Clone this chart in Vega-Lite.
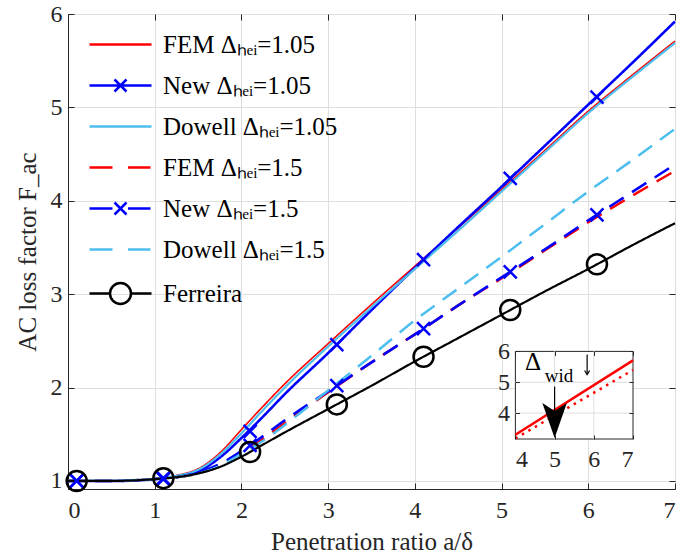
{
  "$schema": "https://vega.github.io/schema/vega-lite/v6.json",
  "width": 607,
  "height": 475,
  "autosize": {"type": "none"},
  "padding": {"left": 68, "top": 14, "right": 19, "bottom": 68},
  "background": "white",
  "config": {
    "font": "Liberation Serif",
    "view": {"stroke": "#262626", "strokeWidth": 1},
    "axis": {
      "labelFont": "Liberation Serif", "labelFontSize": 24, "labelColor": "#262626", "format": "d", "labelOverlap": false,
      "titleFont": "Liberation Serif", "titleFontSize": 25, "titleFontWeight": "normal", "titleColor": "#262626",
      "domainColor": "#262626", "tickColor": "#262626", "gridColor": "#dedede", "gridWidth": 1, "gridOpacity": 1
    }
  },
  "datasets": {
    "lines": [
      {"series": "FEM Δₕₑᵢ=1.05", "x": 0, "y": 1.0}, {"series": "FEM Δₕₑᵢ=1.05", "x": 0.5, "y": 1.0}, {"series": "FEM Δₕₑᵢ=1.05", "x": 1, "y": 1.025}, {"series": "FEM Δₕₑᵢ=1.05", "x": 1.25, "y": 1.06}, {"series": "FEM Δₕₑᵢ=1.05", "x": 1.5, "y": 1.13}, {"series": "FEM Δₕₑᵢ=1.05", "x": 1.75, "y": 1.3}, {"series": "FEM Δₕₑᵢ=1.05", "x": 2, "y": 1.55}, {"series": "FEM Δₕₑᵢ=1.05", "x": 2.25, "y": 1.8}, {"series": "FEM Δₕₑᵢ=1.05", "x": 2.5, "y": 2.04}, {"series": "FEM Δₕₑᵢ=1.05", "x": 3, "y": 2.47}, {"series": "FEM Δₕₑᵢ=1.05", "x": 3.5, "y": 2.89}, {"series": "FEM Δₕₑᵢ=1.05", "x": 4, "y": 3.3}, {"series": "FEM Δₕₑᵢ=1.05", "x": 4.5, "y": 3.71}, {"series": "FEM Δₕₑᵢ=1.05", "x": 5, "y": 4.12}, {"series": "FEM Δₕₑᵢ=1.05", "x": 5.5, "y": 4.54}, {"series": "FEM Δₕₑᵢ=1.05", "x": 6, "y": 4.96}, {"series": "FEM Δₕₑᵢ=1.05", "x": 6.5, "y": 5.34}, {"series": "FEM Δₕₑᵢ=1.05", "x": 7, "y": 5.71},
      {"series": "New Δₕₑᵢ=1.05", "x": 0, "y": 1.0}, {"series": "New Δₕₑᵢ=1.05", "x": 0.5, "y": 1.0}, {"series": "New Δₕₑᵢ=1.05", "x": 1, "y": 1.02}, {"series": "New Δₕₑᵢ=1.05", "x": 1.25, "y": 1.05}, {"series": "New Δₕₑᵢ=1.05", "x": 1.5, "y": 1.1}, {"series": "New Δₕₑᵢ=1.05", "x": 1.75, "y": 1.25}, {"series": "New Δₕₑᵢ=1.05", "x": 2, "y": 1.46}, {"series": "New Δₕₑᵢ=1.05", "x": 2.25, "y": 1.69}, {"series": "New Δₕₑᵢ=1.05", "x": 2.5, "y": 1.93}, {"series": "New Δₕₑᵢ=1.05", "x": 3, "y": 2.37}, {"series": "New Δₕₑᵢ=1.05", "x": 3.5, "y": 2.83}, {"series": "New Δₕₑᵢ=1.05", "x": 4, "y": 3.28}, {"series": "New Δₕₑᵢ=1.05", "x": 4.5, "y": 3.72}, {"series": "New Δₕₑᵢ=1.05", "x": 5, "y": 4.15}, {"series": "New Δₕₑᵢ=1.05", "x": 5.5, "y": 4.59}, {"series": "New Δₕₑᵢ=1.05", "x": 6, "y": 5.03}, {"series": "New Δₕₑᵢ=1.05", "x": 6.5, "y": 5.47}, {"series": "New Δₕₑᵢ=1.05", "x": 7, "y": 5.92},
      {"series": "Dowell Δₕₑᵢ=1.05", "x": 0, "y": 1.0}, {"series": "Dowell Δₕₑᵢ=1.05", "x": 0.5, "y": 1.0}, {"series": "Dowell Δₕₑᵢ=1.05", "x": 1, "y": 1.025}, {"series": "Dowell Δₕₑᵢ=1.05", "x": 1.25, "y": 1.055}, {"series": "Dowell Δₕₑᵢ=1.05", "x": 1.5, "y": 1.12}, {"series": "Dowell Δₕₑᵢ=1.05", "x": 1.75, "y": 1.28}, {"series": "Dowell Δₕₑᵢ=1.05", "x": 2, "y": 1.51}, {"series": "Dowell Δₕₑᵢ=1.05", "x": 2.25, "y": 1.76}, {"series": "Dowell Δₕₑᵢ=1.05", "x": 2.5, "y": 2.0}, {"series": "Dowell Δₕₑᵢ=1.05", "x": 3, "y": 2.44}, {"series": "Dowell Δₕₑᵢ=1.05", "x": 3.5, "y": 2.86}, {"series": "Dowell Δₕₑᵢ=1.05", "x": 4, "y": 3.27}, {"series": "Dowell Δₕₑᵢ=1.05", "x": 4.5, "y": 3.68}, {"series": "Dowell Δₕₑᵢ=1.05", "x": 5, "y": 4.1}, {"series": "Dowell Δₕₑᵢ=1.05", "x": 5.5, "y": 4.52}, {"series": "Dowell Δₕₑᵢ=1.05", "x": 6, "y": 4.94}, {"series": "Dowell Δₕₑᵢ=1.05", "x": 6.5, "y": 5.32}, {"series": "Dowell Δₕₑᵢ=1.05", "x": 7, "y": 5.69},
      {"series": "FEM Δₕₑᵢ=1.5", "x": 0, "y": 1.0}, {"series": "FEM Δₕₑᵢ=1.5", "x": 0.5, "y": 1.0}, {"series": "FEM Δₕₑᵢ=1.5", "x": 1, "y": 1.02}, {"series": "FEM Δₕₑᵢ=1.5", "x": 1.25, "y": 1.04}, {"series": "FEM Δₕₑᵢ=1.5", "x": 1.5, "y": 1.08}, {"series": "FEM Δₕₑᵢ=1.5", "x": 1.75, "y": 1.16}, {"series": "FEM Δₕₑᵢ=1.5", "x": 2, "y": 1.3}, {"series": "FEM Δₕₑᵢ=1.5", "x": 2.25, "y": 1.45}, {"series": "FEM Δₕₑᵢ=1.5", "x": 2.5, "y": 1.62}, {"series": "FEM Δₕₑᵢ=1.5", "x": 3, "y": 1.95}, {"series": "FEM Δₕₑᵢ=1.5", "x": 3.5, "y": 2.27}, {"series": "FEM Δₕₑᵢ=1.5", "x": 4, "y": 2.57}, {"series": "FEM Δₕₑᵢ=1.5", "x": 4.5, "y": 2.88}, {"series": "FEM Δₕₑᵢ=1.5", "x": 5, "y": 3.17}, {"series": "FEM Δₕₑᵢ=1.5", "x": 5.5, "y": 3.47}, {"series": "FEM Δₕₑᵢ=1.5", "x": 6, "y": 3.77}, {"series": "FEM Δₕₑᵢ=1.5", "x": 6.5, "y": 4.05}, {"series": "FEM Δₕₑᵢ=1.5", "x": 7, "y": 4.32},
      {"series": "New Δₕₑᵢ=1.5", "x": 0, "y": 1.0}, {"series": "New Δₕₑᵢ=1.5", "x": 0.5, "y": 1.0}, {"series": "New Δₕₑᵢ=1.5", "x": 1, "y": 1.02}, {"series": "New Δₕₑᵢ=1.5", "x": 1.25, "y": 1.04}, {"series": "New Δₕₑᵢ=1.5", "x": 1.5, "y": 1.09}, {"series": "New Δₕₑᵢ=1.5", "x": 1.75, "y": 1.18}, {"series": "New Δₕₑᵢ=1.5", "x": 2, "y": 1.32}, {"series": "New Δₕₑᵢ=1.5", "x": 2.25, "y": 1.48}, {"series": "New Δₕₑᵢ=1.5", "x": 2.5, "y": 1.65}, {"series": "New Δₕₑᵢ=1.5", "x": 3, "y": 1.96}, {"series": "New Δₕₑᵢ=1.5", "x": 3.5, "y": 2.27}, {"series": "New Δₕₑᵢ=1.5", "x": 4, "y": 2.57}, {"series": "New Δₕₑᵢ=1.5", "x": 4.5, "y": 2.88}, {"series": "New Δₕₑᵢ=1.5", "x": 5, "y": 3.18}, {"series": "New Δₕₑᵢ=1.5", "x": 5.5, "y": 3.48}, {"series": "New Δₕₑᵢ=1.5", "x": 6, "y": 3.79}, {"series": "New Δₕₑᵢ=1.5", "x": 6.5, "y": 4.09}, {"series": "New Δₕₑᵢ=1.5", "x": 7, "y": 4.39},
      {"series": "Dowell Δₕₑᵢ=1.5", "x": 0, "y": 1.0}, {"series": "Dowell Δₕₑᵢ=1.5", "x": 0.5, "y": 1.0}, {"series": "Dowell Δₕₑᵢ=1.5", "x": 1, "y": 1.02}, {"series": "Dowell Δₕₑᵢ=1.5", "x": 1.25, "y": 1.04}, {"series": "Dowell Δₕₑᵢ=1.5", "x": 1.5, "y": 1.08}, {"series": "Dowell Δₕₑᵢ=1.5", "x": 1.75, "y": 1.16}, {"series": "Dowell Δₕₑᵢ=1.5", "x": 2, "y": 1.29}, {"series": "Dowell Δₕₑᵢ=1.5", "x": 2.25, "y": 1.43}, {"series": "Dowell Δₕₑᵢ=1.5", "x": 2.5, "y": 1.6}, {"series": "Dowell Δₕₑᵢ=1.5", "x": 3, "y": 1.97}, {"series": "Dowell Δₕₑᵢ=1.5", "x": 3.5, "y": 2.34}, {"series": "Dowell Δₕₑᵢ=1.5", "x": 4, "y": 2.72}, {"series": "Dowell Δₕₑᵢ=1.5", "x": 4.5, "y": 3.06}, {"series": "Dowell Δₕₑᵢ=1.5", "x": 5, "y": 3.4}, {"series": "Dowell Δₕₑᵢ=1.5", "x": 5.5, "y": 3.75}, {"series": "Dowell Δₕₑᵢ=1.5", "x": 6, "y": 4.1}, {"series": "Dowell Δₕₑᵢ=1.5", "x": 6.5, "y": 4.43}, {"series": "Dowell Δₕₑᵢ=1.5", "x": 7, "y": 4.77},
      {"series": "Ferreira", "x": 0, "y": 1.0}, {"series": "Ferreira", "x": 0.5, "y": 1.0}, {"series": "Ferreira", "x": 1, "y": 1.02}, {"series": "Ferreira", "x": 1.25, "y": 1.04}, {"series": "Ferreira", "x": 1.5, "y": 1.08}, {"series": "Ferreira", "x": 1.75, "y": 1.15}, {"series": "Ferreira", "x": 2, "y": 1.26}, {"series": "Ferreira", "x": 2.25, "y": 1.39}, {"series": "Ferreira", "x": 2.5, "y": 1.52}, {"series": "Ferreira", "x": 3, "y": 1.77}, {"series": "Ferreira", "x": 3.5, "y": 2.02}, {"series": "Ferreira", "x": 4, "y": 2.28}, {"series": "Ferreira", "x": 4.5, "y": 2.53}, {"series": "Ferreira", "x": 5, "y": 2.78}, {"series": "Ferreira", "x": 5.5, "y": 3.03}, {"series": "Ferreira", "x": 6, "y": 3.27}, {"series": "Ferreira", "x": 6.5, "y": 3.52}, {"series": "Ferreira", "x": 7, "y": 3.76}
    ],
    "markers": [
      {"series": "New Δₕₑᵢ=1.05", "x": 0.1, "y": 1.0}, {"series": "New Δₕₑᵢ=1.05", "x": 1.1, "y": 1.03}, {"series": "New Δₕₑᵢ=1.05", "x": 2.1, "y": 1.53}, {"series": "New Δₕₑᵢ=1.05", "x": 3.1, "y": 2.46}, {"series": "New Δₕₑᵢ=1.05", "x": 4.1, "y": 3.37}, {"series": "New Δₕₑᵢ=1.05", "x": 5.1, "y": 4.24}, {"series": "New Δₕₑᵢ=1.05", "x": 6.1, "y": 5.11},
      {"series": "New Δₕₑᵢ=1.5", "x": 0.1, "y": 1.0}, {"series": "New Δₕₑᵢ=1.5", "x": 1.1, "y": 1.02}, {"series": "New Δₕₑᵢ=1.5", "x": 2.1, "y": 1.38}, {"series": "New Δₕₑᵢ=1.5", "x": 3.1, "y": 2.02}, {"series": "New Δₕₑᵢ=1.5", "x": 4.1, "y": 2.63}, {"series": "New Δₕₑᵢ=1.5", "x": 5.1, "y": 3.24}, {"series": "New Δₕₑᵢ=1.5", "x": 6.1, "y": 3.85},
      {"series": "Ferreira", "x": 0.1, "y": 1.0}, {"series": "Ferreira", "x": 1.1, "y": 1.03}, {"series": "Ferreira", "x": 2.1, "y": 1.31}, {"series": "Ferreira", "x": 3.1, "y": 1.82}, {"series": "Ferreira", "x": 4.1, "y": 2.33}, {"series": "Ferreira", "x": 5.1, "y": 2.83}, {"series": "Ferreira", "x": 6.1, "y": 3.32}
    ],
    "inset": [
      {"series": "solid", "x": 4, "y": 3.3}, {"series": "solid", "x": 7, "y": 5.71},
      {"series": "dotted", "x": 4, "y": 3.18}, {"series": "dotted", "x": 7, "y": 5.4}
    ]
  },
  "layer": [
    {
      "layer": [
        {
          "data": {"name": "lines"},
          "mark": {"type": "line", "interpolate": "monotone"},
          "encoding": {
            "x": {"field": "x", "type": "quantitative", "scale": {"domain": [0, 7], "nice": false, "zero": false},
              "axis": {"orient": "bottom", "values": [0, 1, 2, 3, 4, 5, 6, 7], "title": "Penetration ratio a/δ", "grid": true, "tickSize": -6, "labelPadding": 15, "titlePadding": 7}},
            "y": {"field": "y", "type": "quantitative", "scale": {"domain": [0.914, 6], "nice": false, "zero": false},
              "axis": {"orient": "left", "values": [1, 2, 3, 4, 5, 6], "title": "AC loss factor F_ac", "grid": true, "tickSize": -6, "labelPadding": 12, "titlePadding": 10}},
            "stroke": {"field": "series", "type": "nominal", "legend": null,
              "scale": {"domain": ["Dowell Δₕₑᵢ=1.05", "Dowell Δₕₑᵢ=1.5", "FEM Δₕₑᵢ=1.05", "FEM Δₕₑᵢ=1.5", "Ferreira", "New Δₕₑᵢ=1.05", "New Δₕₑᵢ=1.5"],
                "range": ["#4dbeee", "#4dbeee", "#ff0000", "#ff0000", "#000000", "#0000ff", "#0000ff"]}},
            "strokeDash": {"field": "series", "type": "nominal", "legend": null,
              "scale": {"domain": ["Dowell Δₕₑᵢ=1.05", "Dowell Δₕₑᵢ=1.5", "FEM Δₕₑᵢ=1.05", "FEM Δₕₑᵢ=1.5", "Ferreira", "New Δₕₑᵢ=1.05", "New Δₕₑᵢ=1.5"],
                "range": [[1, 0], [17, 10], [1, 0], [17, 10], [1, 0], [1, 0], [17, 10]]}},
            "strokeWidth": {"field": "series", "type": "nominal", "legend": null,
              "scale": {"type": "ordinal", "domain": ["Dowell Δₕₑᵢ=1.05", "Dowell Δₕₑᵢ=1.5", "FEM Δₕₑᵢ=1.05", "FEM Δₕₑᵢ=1.5", "Ferreira", "New Δₕₑᵢ=1.05", "New Δₕₑᵢ=1.5"],
                "range": [2.2, 2.5, 1.6, 2.5, 2.2, 2.6, 2.6]}}
          }
        },
        {
          "data": {"name": "markers"},
          "transform": [{"filter": "datum.series != 'Ferreira'"}],
          "mark": {"type": "point", "shape": "M-1,-1L1,1M-1,1L1,-1", "size": 169, "strokeWidth": 2.5, "color": "#0000ff", "filled": false, "opacity": 1},
          "encoding": {"x": {"field": "x", "type": "quantitative"}, "y": {"field": "y", "type": "quantitative"}}
        },
        {
          "data": {"name": "markers"},
          "transform": [{"filter": "datum.series == 'Ferreira'"}],
          "mark": {"type": "point", "shape": "circle", "size": 400, "strokeWidth": 2.5, "color": "#000000", "filled": false, "opacity": 1},
          "encoding": {"x": {"field": "x", "type": "quantitative"}, "y": {"field": "y", "type": "quantitative"}}
        },
        {
          "data": {"name": "lines"},
          "transform": [{"filter": "datum.x == 0"}],
          "mark": {"type": "point", "opacity": 0, "filled": false},
          "encoding": {
            "x": {"field": "x", "type": "quantitative"},
            "y": {"field": "y", "type": "quantitative"},
            "color": {"field": "series", "type": "nominal",
              "scale": {"domain": ["FEM Δₕₑᵢ=1.05", "New Δₕₑᵢ=1.05", "Dowell Δₕₑᵢ=1.05", "FEM Δₕₑᵢ=1.5", "New Δₕₑᵢ=1.5", "Dowell Δₕₑᵢ=1.5", "Ferreira"],
                "range": ["#ff0000", "#0000ff", "#4dbeee", "#ff0000", "#0000ff", "#4dbeee", "#000000"]},
              "legend": {"orient": "none", "legendX": 40, "legendY": 18, "title": null, "padding": 0, "symbolSize": 400, "symbolStrokeWidth": 2.5, "symbolOpacity": 1, "labelFont": "Liberation Serif", "labelFontSize": 25, "labelColor": "#000000", "labelOffset": 30, "rowPadding": 15, "labelLimit": 400}},
            "shape": {"field": "series", "type": "nominal",
              "scale": {"domain": ["FEM Δₕₑᵢ=1.05", "New Δₕₑᵢ=1.05", "Dowell Δₕₑᵢ=1.05", "FEM Δₕₑᵢ=1.5", "New Δₕₑᵢ=1.5", "Dowell Δₕₑᵢ=1.5", "Ferreira"],
                "range": [
                  "M-3.1,0L3.1,0",
                  "M-3.1,0L3.1,0M-0.6,-0.6L0.6,0.6M-0.6,0.6L0.6,-0.6",
                  "M-3.1,0L3.1,0",
                  "M-3.1,0L-0.8,0M0.75,0L3.0,0",
                  "M-3.1,0L-0.8,0M0.75,0L3.0,0M-0.6,-0.6L0.6,0.6M-0.6,0.6L0.6,-0.6",
                  "M-3.1,0L-0.8,0M0.75,0L3.0,0",
                  "M-3.1,0L-1.05,0M1.05,0L3.1,0M-1.05,0A1.05,1.05,0,1,0,1.05,0A1.05,1.05,0,1,0,-1.05,0"
                ]},
              "legend": {"orient": "none", "legendX": 40, "legendY": 18, "title": null, "padding": 0, "symbolSize": 400, "symbolStrokeWidth": 2.5, "symbolOpacity": 1, "labelFont": "Liberation Serif", "labelFontSize": 25, "labelColor": "#000000", "labelOffset": 30, "rowPadding": 15, "labelLimit": 400}}
          }
        }
      ]
    },
    {
      "layer": [
        {
          "data": {"values": [{}]},
          "mark": {"type": "rect", "fill": "white", "stroke": "#262626", "strokeWidth": 1},
          "encoding": {
            "x": {"datum": 4, "type": "quantitative", "scale": {"domain": [4, 7], "range": [447.4, 565], "nice": false, "zero": false},
              "axis": {"orient": "bottom", "offset": -50, "values": [4, 5, 6, 7], "grid": false, "domain": false, "tickSize": -4, "labelPadding": 12, "title": null, "zindex": 1}},
            "x2": {"datum": 7},
            "y": {"datum": 3.16, "type": "quantitative", "scale": {"domain": [3.16, 6], "range": [425, 337.4], "nice": false, "zero": false},
              "axis": {"orient": "left", "offset": -447.4, "values": [4, 5, 6], "grid": false, "domain": false, "tickSize": -4, "labelPadding": 10, "title": null, "zindex": 1}},
            "y2": {"datum": 6}
          }
        },
        {
          "data": {"values": [{"v": 5}, {"v": 6}]},
          "mark": {"type": "rule", "color": "#dedede", "strokeWidth": 1},
          "encoding": {"x": {"field": "v", "type": "quantitative"}, "y": {"datum": 3.16, "type": "quantitative"}, "y2": {"datum": 6}}
        },
        {
          "data": {"values": [{"v": 4}, {"v": 5}]},
          "mark": {"type": "rule", "color": "#dedede", "strokeWidth": 1},
          "encoding": {"y": {"field": "v", "type": "quantitative"}, "x": {"datum": 4, "type": "quantitative"}, "x2": {"datum": 7}}
        },
        {
          "data": {"name": "inset"},
          "transform": [{"filter": "datum.series == 'solid'"}],
          "mark": {"type": "line", "color": "#ff0000", "strokeWidth": 2.5},
          "encoding": {"x": {"field": "x", "type": "quantitative"}, "y": {"field": "y", "type": "quantitative"}}
        },
        {
          "data": {"name": "inset"},
          "transform": [{"filter": "datum.series == 'dotted'"}],
          "mark": {"type": "line", "color": "#ff0000", "strokeWidth": 2.5, "strokeDash": [2.5, 5]},
          "encoding": {"x": {"field": "x", "type": "quantitative"}, "y": {"field": "y", "type": "quantitative"}}
        },
        {
          "data": {"values": [{"t": "Δ", "x": 4.45, "y": 5.41}]},
          "mark": {"type": "text", "font": "Liberation Serif", "fontSize": 25, "align": "center", "baseline": "alphabetic", "color": "#000000"},
          "encoding": {"x": {"field": "x", "type": "quantitative"}, "y": {"field": "y", "type": "quantitative"}, "text": {"field": "t"}}
        },
        {
          "data": {"values": [{"t": "wid", "x": 5.11, "y": 5.0}]},
          "mark": {"type": "text", "font": "Liberation Serif", "fontSize": 19, "align": "center", "baseline": "alphabetic", "color": "#000000"},
          "encoding": {"x": {"field": "x", "type": "quantitative"}, "y": {"field": "y", "type": "quantitative"}, "text": {"field": "t"}}
        },
        {
          "data": {"values": [{"x": 5, "y": 4.86, "y2": 4.0}, {"x": 5.83, "y": 5.9, "y2": 5.26}]},
          "mark": {"type": "rule", "color": "#000000", "strokeWidth": 1.2},
          "encoding": {"x": {"field": "x", "type": "quantitative"}, "y": {"field": "y", "type": "quantitative"}, "y2": {"field": "y2"}}
        },
        {
          "data": {"values": [{"x": 5, "y": 3.19}]},
          "mark": {"type": "point", "shape": "M0,0L-0.7,-2L0,-1.55L0.7,-2Z", "size": 1225, "filled": true, "color": "#000000", "opacity": 1, "strokeWidth": 0},
          "encoding": {"x": {"field": "x", "type": "quantitative"}, "y": {"field": "y", "type": "quantitative"}}
        },
        {
          "data": {"values": [{"x": 5.83, "y": 5.25}]},
          "mark": {"type": "point", "shape": "M-1,-1.6L0,0L1,-1.6", "size": 25, "filled": false, "color": "#000000", "opacity": 1, "strokeWidth": 1.2},
          "encoding": {"x": {"field": "x", "type": "quantitative"}, "y": {"field": "y", "type": "quantitative"}}
        }
      ]
    },
    {
      "data": {"values": [{}]},
      "mark": {"type": "point", "opacity": 0},
      "encoding": {
        "x": {"datum": 0, "type": "quantitative", "scale": {"domain": [0, 7], "nice": false, "zero": false},
          "axis": {"orient": "top", "values": [0, 1, 2, 3, 4, 5, 6, 7], "labels": false, "grid": false, "domain": false, "tickSize": -6, "title": null}},
        "y": {"datum": 1, "type": "quantitative", "scale": {"domain": [0.914, 6], "nice": false, "zero": false},
          "axis": {"orient": "right", "values": [1, 2, 3, 4, 5, 6], "labels": false, "grid": false, "domain": false, "tickSize": -6, "title": null}}
      }
    },
    {
      "data": {"values": [{}]},
      "mark": {"type": "point", "opacity": 0},
      "encoding": {
        "x": {"datum": 4, "type": "quantitative", "scale": {"domain": [4, 7], "range": [447.4, 565], "nice": false, "zero": false},
          "axis": {"orient": "top", "offset": -337.4, "values": [4, 5, 6, 7], "labels": false, "grid": false, "domain": false, "tickSize": -4, "title": null, "zindex": 1}},
        "y": {"datum": 4, "type": "quantitative", "scale": {"domain": [3.16, 6], "range": [425, 337.4], "nice": false, "zero": false},
          "axis": {"orient": "right", "offset": -42, "values": [4, 5, 6], "labels": false, "grid": false, "domain": false, "tickSize": -4, "title": null, "zindex": 1}}
      }
    }
  ],
  "resolve": {"scale": {"x": "independent", "y": "independent"}, "axis": {"x": "independent", "y": "independent"}}
}
